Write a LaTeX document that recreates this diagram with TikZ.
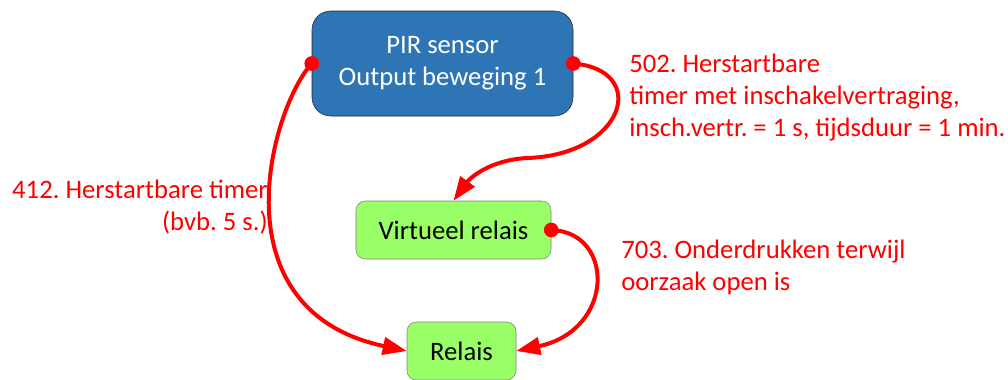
\documentclass[tikz,border=0pt]{standalone}
\usepackage{fontspec}
\setmainfont{Carlito}
\usetikzlibrary{arrows.meta, positioning}
\frenchspacing

\definecolor{pirblue}{HTML}{2E75B6}
\definecolor{pirborder}{HTML}{1F2A36}
\definecolor{relaygreen}{HTML}{99FF66}
\definecolor{relayborder}{HTML}{808080}

\begin{document}
\begin{tikzpicture}[x=0.75pt, y=-0.75pt,
   sensor node/.style={rectangle, rounded corners=14pt, draw=pirborder, fill=pirblue, text=white, minimum width=195.75pt, minimum height=78.75pt, align=center, font=\fontsize{20}{24}\selectfont},
   relay node/.style={rectangle, rounded corners=7pt, draw=relayborder, fill=relaygreen, minimum height=43.5pt, font=\fontsize{20}{24}\selectfont},
   note/.style={text=red, inner sep=0pt, font=\fontsize{20}{24}\selectfont},
   wire/.style={draw=red, line width=3pt, -{Triangle[length=18pt,width=13pt]}}]
   \useasboundingbox (0,0) rectangle (1008,379);

   \node[sensor node] (pir) at (442.5,63.5) {PIR sensor\\Output beweging 1};
   \node[relay node, minimum width=146.25pt] (virt) at (453.5,230) {Virtueel relais};
   \node[relay node, minimum width=81.75pt] (relais) at (461.5,351) {Relais};

   \node[note, anchor=north west, align=left] (t502) at (629,54) {502. Herstartbare\\timer met inschakelvertraging,\\insch.vertr. = 1 s, tijdsduur = 1 min.};
   \node[note, anchor=north east, align=right] (t412) at (268,180) {412. Herstartbare timer\\(bvb. 5 s.)};
   \node[note, anchor=north west, align=left] (t703) at (621,240) {703. Onderdrukken terwijl\\oorzaak open is};

   \draw[wire] (pir.west) .. controls (270,110) and (215,310) .. (relais.west);
   \draw[wire] (pir.east) .. controls (650,70) and (625,155) .. (527,158) .. controls (490,160) and (470,178) .. (virt.north);
   \draw[wire] (virt.east) .. controls (615,232) and (615,330) .. (relais.east);

   \fill[red] (pir.west) circle (5.5pt);
   \fill[red] (pir.east) circle (5.5pt);
   \fill[red] (virt.east) circle (5.5pt);
\end{tikzpicture}
\end{document}
